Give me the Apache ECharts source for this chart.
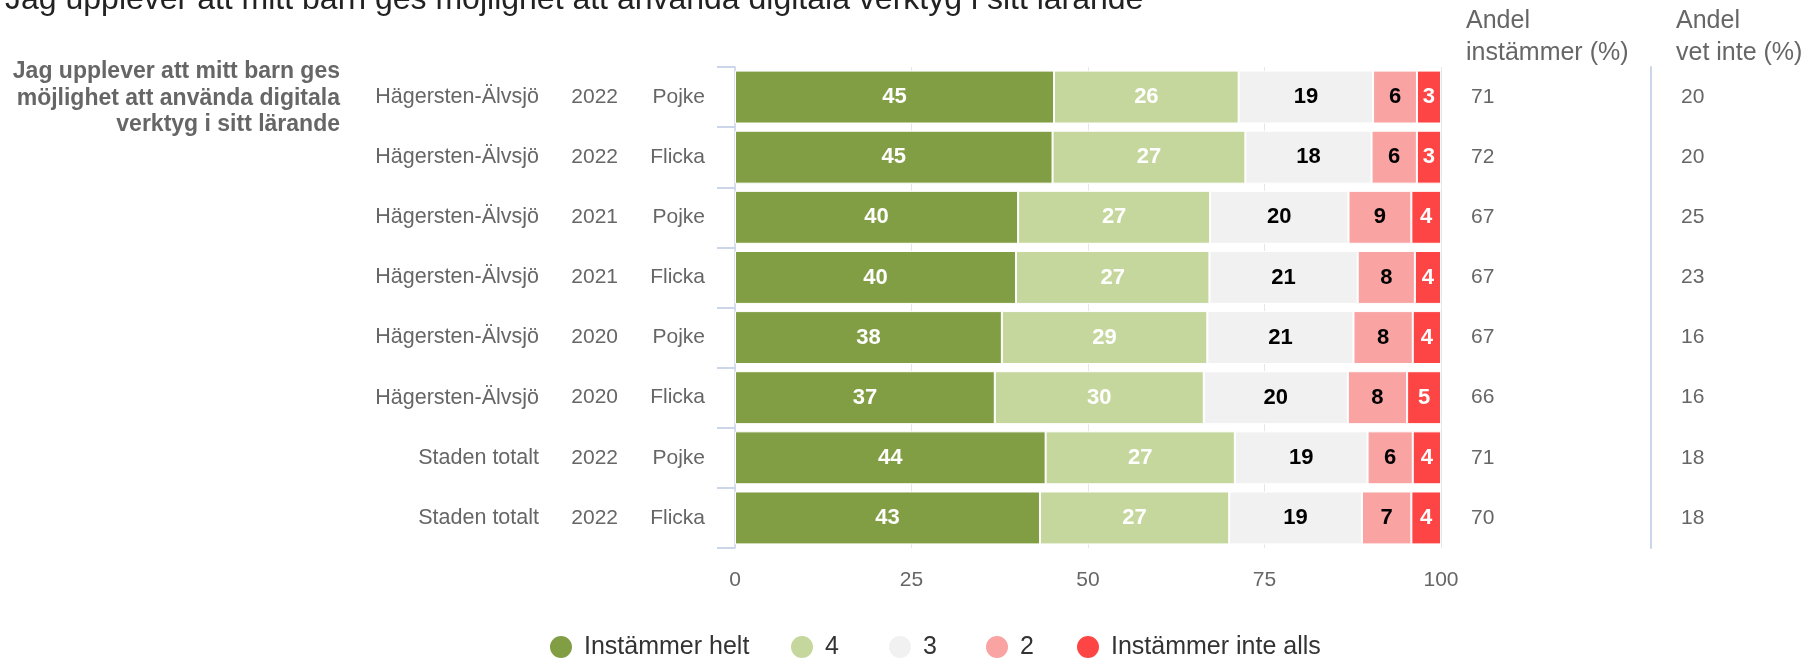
<!DOCTYPE html>
<html><head><meta charset="utf-8">
<script src="https://cdn.jsdelivr.net/npm/echarts@6/dist/echarts.min.js"></script>
<style>html,body{margin:0;padding:0;background:#fff}#c{width:1802px;height:658px}</style>
</head><body><div id="c"></div>
<script>
const titleText = 'Jag upplever att mitt barn ges möjlighet att använda digitala verktyg i sitt lärande';
const groupLabel = ['Jag upplever att mitt barn ges', 'möjlighet att använda digitala', 'verktyg i sitt lärande'];
const areas = ['Hägersten-Älvsjö','Hägersten-Älvsjö','Hägersten-Älvsjö','Hägersten-Älvsjö','Hägersten-Älvsjö','Hägersten-Älvsjö','Staden totalt','Staden totalt'];
const years = ['2022','2022','2021','2021','2020','2020','2022','2022'];
const genders = ['Pojke','Flicka','Pojke','Flicka','Pojke','Flicka','Pojke','Flicka'];
const seriesNames = ['Instämmer helt','4','3','2','Instämmer inte alls'];
const helt     = [45.1, 44.8, 40.1, 39.8, 37.8, 36.8, 44.0, 43.2];
const fyra     = [26.1, 27.2, 27.2, 27.4, 29.1, 29.6, 26.8, 26.8];
const tre      = [19.0, 17.8, 19.6, 21.0, 20.7, 20.4, 18.8, 18.8];
const tva      = [6.2, 6.4, 8.9, 8.1, 8.4, 8.4, 6.4, 7.0];
const inteAlls = [3.4, 3.4, 4.2, 3.7, 4.0, 4.8, 4.0, 4.2];
const andelInstammer = [71, 72, 67, 67, 67, 66, 71, 70];
const andelVetInte = [20, 20, 25, 23, 16, 16, 18, 18];
const headers = ['Andel\ninstämmer (%)', 'Andel\nvet inte (%)'];
const xTicks = [0, 25, 50, 75, 100];

const FONT = '"Liberation Sans", Arial, sans-serif';
const colors = ['#829e44', '#c5d79d', '#f1f1f1', '#f9a3a3', '#fe4545'];
const labelColors = ['#ffffff', '#ffffff', '#000000', '#000000', '#ffffff'];
const legendLefts = [548, 789, 887, 984, 1075];
const raw = [helt, fyra, tre, tva, inteAlls];
const totals = helt.map((_, i) => raw.reduce((s, arr) => s + arr[i], 0));
const cats = areas.map((a, i) => a + '|' + years[i] + '|' + genders[i]);

const chart = echarts.init(document.getElementById('c'));
const series = raw.map((arr, s) => ({
  name: seriesNames[s],
  type: 'bar',
  stack: 'total',
  barCategoryGap: '12%',
  data: arr.map((v, i) => v / totals[i] * 100),
  itemStyle: { color: colors[s], borderColor: '#ffffff', borderWidth: 1 },
  label: {
    show: true, position: 'inside',
    fontFamily: FONT, fontSize: 22, fontWeight: 'bold', color: labelColors[s],
    formatter: p => Math.round(arr[p.dataIndex])
  },
  emphasis: { disabled: true }
}));

const legends = seriesNames.map((n, k) => ({
  data: [n], icon: 'circle', itemWidth: 24, itemHeight: 24,
  left: legendLefts[k], top: 634, padding: 0,
  textStyle: { fontFamily: FONT, fontSize: 25, color: '#333333', padding: [0, 0, 0, 6] }
}));

chart.setOption({
  animation: false,
  backgroundColor: '#ffffff',
  title: {
    text: titleText, left: 5, top: -16, padding: 0,
    textStyle: { fontFamily: FONT, fontSize: 32, fontWeight: 'normal', color: '#222222' }
  },
  legend: legends,
  grid: { left: 735, right: 361, top: 67, bottom: 110, containLabel: false },
  xAxis: {
    type: 'value', min: xTicks[0], max: xTicks[xTicks.length - 1], interval: xTicks[1] - xTicks[0],
    axisLine: { show: false }, axisTick: { show: false },
    splitLine: { show: true, lineStyle: { color: '#e6e6e6', width: 1 } },
    axisLabel: { fontFamily: FONT, fontSize: 21, color: '#666666', margin: 22 }
  },
  yAxis: [
    {
      type: 'category', data: cats, inverse: true, position: 'left',
      axisLine: { show: true, lineStyle: { color: '#ccd6eb', width: 1.5 } },
      axisTick: { show: true, length: 18, lineStyle: { color: '#ccd6eb', width: 2 } },
      axisLabel: {
        margin: 30, align: 'right',
        formatter: (v, i) => '{a|' + areas[i] + '}{b|' + years[i] + '}{c|' + genders[i] + '}',
        rich: {
          a: { width: 200, align: 'right', fontFamily: FONT, fontSize: 21.5, color: '#666666' },
          b: { width: 79, align: 'right', fontFamily: FONT, fontSize: 21, color: '#666666' },
          c: { width: 87, align: 'right', fontFamily: FONT, fontSize: 21, color: '#666666' }
        }
      }
    },
    {
      type: 'category', data: andelInstammer.map((v, i) => 'i' + i), inverse: true, position: 'right', offset: 0,
      axisLine: { show: false }, axisTick: { show: false },
      axisLabel: { margin: 30, align: 'left', fontFamily: FONT, fontSize: 21, color: '#666666',
        formatter: (v, i) => String(andelInstammer[i]) }
    },
    {
      type: 'category', data: andelVetInte.map((v, i) => 'v' + i), inverse: true, position: 'right', offset: 210,
      axisLine: { show: true, lineStyle: { color: '#ccd6eb', width: 2 } }, axisTick: { show: false },
      axisLabel: { margin: 30, align: 'left', fontFamily: FONT, fontSize: 21, color: '#666666',
        formatter: (v, i) => String(andelVetInte[i]) }
    }
  ],
  graphic: [
    { type: 'text', x: 340, y: 58.5, style: {
        text: groupLabel.join('\n'), align: 'right', verticalAlign: 'top',
        font: 'bold 23px ' + FONT, fill: '#666666', lineHeight: 26.5 } },
    { type: 'text', x: 1466, y: 5, style: {
        text: headers[0], align: 'left', verticalAlign: 'top',
        font: '25px ' + FONT, fill: '#666666', lineHeight: 32 } },
    { type: 'text', x: 1676, y: 5, style: {
        text: headers[1], align: 'left', verticalAlign: 'top',
        font: '25px ' + FONT, fill: '#666666', lineHeight: 32 } }
  ],
  series: series
});
</script>
</body></html>
